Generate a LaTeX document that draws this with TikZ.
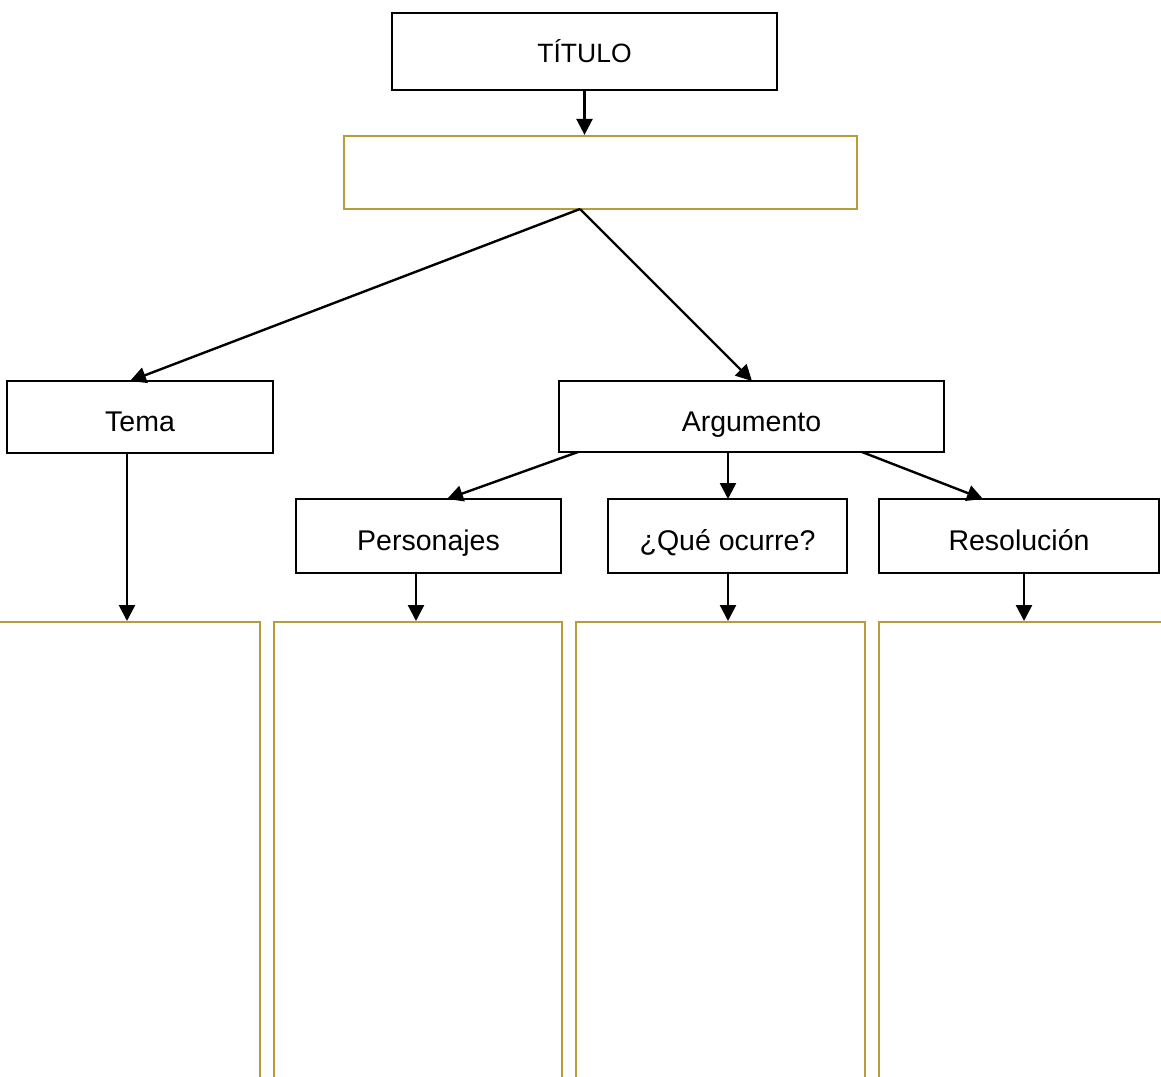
\documentclass[tikz,border=0pt]{standalone}
\usepackage{fontspec}
\setmainfont{Liberation Sans}
\usetikzlibrary{arrows.meta,calc}
\definecolor{gold}{RGB}{184,156,60}
\begin{document}
\begin{tikzpicture}[x=1pt,y=-1pt,
  box/.style={draw=black,line width=2.4pt,rectangle,inner sep=0pt,text height=29pt,text depth=0pt,font=\fontsize{28.5}{34}\selectfont},
  goldbox/.style={draw=gold,line width=2.2pt,rectangle,inner sep=0pt},
  conn/.style={line width=2.4pt,-{Triangle[length=16pt,width=16pt]}}]
\fill[white] (0,0) rectangle (1161,1076);
\useasboundingbox (0,0) rectangle (1161,1076);
\clip (0,0) rectangle (1161,1076);
% top
\node[box,minimum width=385pt,minimum height=77pt,text height=21pt,font=\fontsize{26.5}{31}\selectfont] (tit) at (584.5,51.5) {TÍTULO};
\node[goldbox,minimum width=513pt,minimum height=73pt] (gb) at (600.5,172.5) {};
% middle
\node[box,minimum width=266pt,minimum height=72pt] (tema) at (140,417) {Tema};
\node[box,minimum width=385pt,minimum height=71pt] (arg) at (751.5,416.5) {Argumento};
\node[box,minimum width=265pt,minimum height=74pt] (pers) at (428.5,536) {Personajes};
\node[box,minimum width=239pt,minimum height=74pt] (que) at (727.5,536) {¿Qué ocurre?};
\node[box,minimum width=280pt,minimum height=74pt] (res) at (1019,536) {Resolución};
% bottom boxes
\node[goldbox,anchor=north,minimum width=280pt,minimum height=520pt] (b1) at (120,621) {};
\node[goldbox,anchor=north,minimum width=288pt,minimum height=520pt] (b2) at (418,621) {};
\node[goldbox,anchor=north,minimum width=289pt,minimum height=520pt] (b3) at (720.5,621) {};
\node[goldbox,anchor=north,minimum width=311pt,minimum height=520pt] (b4) at (1034.5,621) {};
% connector end points
\coordinate (gbs) at (580,209);
\coordinate (temat) at (130,381);
\coordinate (argt) at (752,381);
\coordinate (argl) at (578,452);
\coordinate (argm) at (728,452);
\coordinate (argr) at (862,452);
\coordinate (perst) at (447,499);
\coordinate (quet) at (728,499);
\coordinate (rest) at (983,499);
% connectors
\draw[conn] (tit.south) -- (tit.south |- gb.north);
\draw[conn] (gbs) -- (temat);
\draw[conn] (gbs) -- (argt);
\draw[conn] (argl) -- (perst);
\draw[conn] (argm) -- (quet);
\draw[conn] (argr) -- (rest);
\draw[conn] (tema.south -| 127,0) -- (127,0 |- b1.north);
\draw[conn] (pers.south -| 416,0) -- (416,0 |- b2.north);
\draw[conn] (que.south -| 728,0) -- (728,0 |- b3.north);
\draw[conn] (res.south -| 1024,0) -- (1024,0 |- b4.north);
\end{tikzpicture}
\end{document}
